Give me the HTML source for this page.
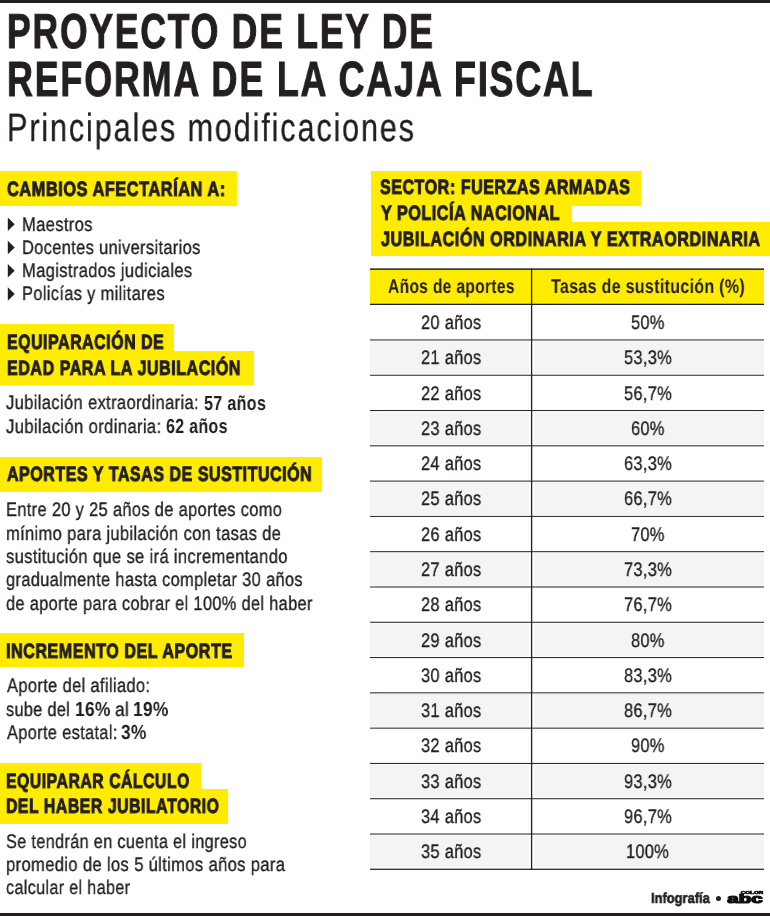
<!DOCTYPE html><html lang="es"><head><meta charset="utf-8"><title>Proyecto de ley de reforma de la Caja Fiscal</title><style>
html,body{margin:0;padding:0;background:#fff}
body{width:770px;height:916px;position:relative;overflow:hidden;font-family:'Liberation Sans', Arial, sans-serif;color:#231f20}
.t{position:absolute;left:0;top:0;white-space:nowrap;transform-origin:0 0;will-change:transform;text-rendering:geometricPrecision}
.r{position:absolute}
</style></head><body>
<div class="r" style="left:0px;top:0px;width:770.00px;height:3.00px;background:#231f20;"></div>
<div class="r" style="left:0px;top:913px;width:770.00px;height:3.00px;background:#231f20;"></div>
<div class="r" style="left:0px;top:171.2px;width:237.00px;height:34.40px;background:#ffec00;"></div>
<div class="r" style="left:0px;top:323.5px;width:174.00px;height:27.50px;background:#ffec00;"></div>
<div class="r" style="left:0px;top:350.6px;width:254.00px;height:34.40px;background:#ffec00;"></div>
<div class="r" style="left:0px;top:456.8px;width:322.00px;height:34.90px;background:#ffec00;"></div>
<div class="r" style="left:0px;top:632.6px;width:243.60px;height:34.60px;background:#ffec00;"></div>
<div class="r" style="left:0px;top:763.1px;width:201.00px;height:25.90px;background:#ffec00;"></div>
<div class="r" style="left:0px;top:788.8px;width:228.00px;height:34.80px;background:#ffec00;"></div>
<div class="r" style="left:370.8px;top:171.2px;width:269.90px;height:34.40px;background:#ffec00;"></div>
<div class="r" style="left:370.8px;top:205.6px;width:201.20px;height:16.40px;background:#ffec00;"></div>
<div class="r" style="left:370.8px;top:221.9px;width:399.20px;height:34.50px;background:#ffec00;"></div>
<svg class="r" style="left:0;top:0" width="770" height="916"><rect x="370.0" y="269.6" width="394.0" height="34.6" fill="#ffec00"/><rect x="370.0" y="341.25" width="158.95" height="32.49" fill="#f4f4f4"/><rect x="534.25" y="341.25" width="229.75" height="32.49" fill="#f4f4f4"/><rect x="370.0" y="411.83" width="158.95" height="32.49" fill="#f4f4f4"/><rect x="534.25" y="411.83" width="229.75" height="32.49" fill="#f4f4f4"/><rect x="370.0" y="482.41" width="158.95" height="32.49" fill="#f4f4f4"/><rect x="534.25" y="482.41" width="229.75" height="32.49" fill="#f4f4f4"/><rect x="370.0" y="552.99" width="158.95" height="32.49" fill="#f4f4f4"/><rect x="534.25" y="552.99" width="229.75" height="32.49" fill="#f4f4f4"/><rect x="370.0" y="623.57" width="158.95" height="32.49" fill="#f4f4f4"/><rect x="534.25" y="623.57" width="229.75" height="32.49" fill="#f4f4f4"/><rect x="370.0" y="694.15" width="158.95" height="32.49" fill="#f4f4f4"/><rect x="534.25" y="694.15" width="229.75" height="32.49" fill="#f4f4f4"/><rect x="370.0" y="764.73" width="158.95" height="32.49" fill="#f4f4f4"/><rect x="534.25" y="764.73" width="229.75" height="32.49" fill="#f4f4f4"/><rect x="370.0" y="835.31" width="158.95" height="31.89" fill="#f4f4f4"/><rect x="534.25" y="835.31" width="229.75" height="31.89" fill="#f4f4f4"/><rect x="370.0" y="339.45" width="394.0" height="1" fill="#231f20"/><rect x="370.0" y="374.74" width="394.0" height="1" fill="#231f20"/><rect x="370.0" y="410.03" width="394.0" height="1" fill="#231f20"/><rect x="370.0" y="445.32" width="394.0" height="1" fill="#231f20"/><rect x="370.0" y="480.61" width="394.0" height="1" fill="#231f20"/><rect x="370.0" y="515.90" width="394.0" height="1" fill="#231f20"/><rect x="370.0" y="551.19" width="394.0" height="1" fill="#231f20"/><rect x="370.0" y="586.48" width="394.0" height="1" fill="#231f20"/><rect x="370.0" y="621.77" width="394.0" height="1" fill="#231f20"/><rect x="370.0" y="657.06" width="394.0" height="1" fill="#231f20"/><rect x="370.0" y="692.35" width="394.0" height="1" fill="#231f20"/><rect x="370.0" y="727.64" width="394.0" height="1" fill="#231f20"/><rect x="370.0" y="762.93" width="394.0" height="1" fill="#231f20"/><rect x="370.0" y="798.22" width="394.0" height="1" fill="#231f20"/><rect x="370.0" y="833.51" width="394.0" height="1" fill="#231f20"/><rect x="370.0" y="268.4" width="394.0" height="1.5" fill="#231f20"/><rect x="370.0" y="303.75" width="394.0" height="1.25" fill="#231f20"/><rect x="370.0" y="868.65" width="394.0" height="1.25" fill="#231f20"/><rect x="530.95" y="268.4" width="1.3" height="601.50" fill="#231f20"/></svg>
<svg class="r" style="left:0;top:0" width="30" height="310" fill="#231f20"><polygon points="7.8,217.4 14.7,224.15 7.8,230.9"/><polygon points="7.8,240.7 14.7,247.45 7.8,254.2"/><polygon points="7.8,264.0 14.7,270.75 7.8,277.5"/><polygon points="7.8,287.3 14.7,294.05 7.8,300.8"/></svg>
<div class="t" style="font-size:48.98px;line-height:48.98px;font-weight:bold;letter-spacing:0.05em;-webkit-text-stroke:1.0px #231f20;left:7.21px;top:8.24px;transform:scale(0.7259,1.0019)">PROYECTO DE LEY DE</div>
<div class="t" style="font-size:49.27px;line-height:49.27px;font-weight:bold;letter-spacing:0.05em;-webkit-text-stroke:1.0px #231f20;left:6.89px;top:55.29px;transform:scale(0.7288,0.9982)">REFORMA DE LA CAJA FISCAL</div>
<div class="t" style="font-size:39.39px;line-height:39.39px;letter-spacing:0.06em;-webkit-text-stroke:0.3px #231f20;left:7.00px;top:108.76px;transform:scale(0.7783,1.0024)">Principales modificaciones</div>
<div class="t" style="font-size:20.64px;line-height:20.64px;font-weight:bold;letter-spacing:0.035em;-webkit-text-stroke:1.0px #231f20;left:6.87px;top:180.29px;transform:scale(0.7903,0.9899)">CAMBIOS AFECTARÍAN A:</div>
<div class="t" style="font-size:20.64px;line-height:20.64px;font-weight:bold;letter-spacing:0.035em;-webkit-text-stroke:1.0px #231f20;left:6.87px;top:333.49px;transform:scale(0.7702,0.9899)">EQUIPARACIÓN DE</div>
<div class="t" style="font-size:20.64px;line-height:20.64px;font-weight:bold;letter-spacing:0.035em;-webkit-text-stroke:1.0px #231f20;left:6.87px;top:359.09px;transform:scale(0.7771,0.9899)">EDAD PARA LA JUBILACIÓN</div>
<div class="t" style="font-size:20.64px;line-height:20.64px;font-weight:bold;letter-spacing:0.035em;-webkit-text-stroke:1.0px #231f20;left:7.27px;top:465.49px;transform:scale(0.7744,0.9899)">APORTES Y TASAS DE SUSTITUCIÓN</div>
<div class="t" style="font-size:20.64px;line-height:20.64px;font-weight:bold;letter-spacing:0.035em;-webkit-text-stroke:1.0px #231f20;left:6.36px;top:641.59px;transform:scale(0.7788,0.9899)">INCREMENTO DEL APORTE</div>
<div class="t" style="font-size:20.64px;line-height:20.64px;font-weight:bold;letter-spacing:0.035em;-webkit-text-stroke:1.0px #231f20;left:6.38px;top:771.59px;transform:scale(0.7627,0.9899)">EQUIPARAR CÁLCULO</div>
<div class="t" style="font-size:20.64px;line-height:20.64px;font-weight:bold;letter-spacing:0.035em;-webkit-text-stroke:1.0px #231f20;left:6.38px;top:796.99px;transform:scale(0.7659,0.9899)">DEL HABER JUBILATORIO</div>
<div class="t" style="font-size:20.64px;line-height:20.64px;font-weight:bold;letter-spacing:0.035em;-webkit-text-stroke:1.0px #231f20;left:380.45px;top:178.19px;transform:scale(0.7767,0.9899)">SECTOR: FUERZAS ARMADAS</div>
<div class="t" style="font-size:20.64px;line-height:20.64px;font-weight:bold;letter-spacing:0.035em;-webkit-text-stroke:1.0px #231f20;left:380.51px;top:203.89px;transform:scale(0.7799,0.9899)">Y POLICÍA NACIONAL</div>
<div class="t" style="font-size:20.64px;line-height:20.64px;font-weight:bold;letter-spacing:0.035em;-webkit-text-stroke:1.0px #231f20;left:380.53px;top:229.59px;transform:scale(0.7813,0.9899)">JUBILACIÓN ORDINARIA Y EXTRAORDINARIA</div>
<div class="t" style="font-size:19.60px;line-height:19.60px;letter-spacing:0.02em;-webkit-text-stroke:0.35px #231f20;left:21.50px;top:215.82px;transform:scale(0.8458,1.0008)">Maestros</div>
<div class="t" style="font-size:19.60px;line-height:19.60px;letter-spacing:0.02em;-webkit-text-stroke:0.35px #231f20;left:21.51px;top:239.02px;transform:scale(0.8400,1.0008)">Docentes universitarios</div>
<div class="t" style="font-size:19.60px;line-height:19.60px;letter-spacing:0.02em;-webkit-text-stroke:0.35px #231f20;left:21.50px;top:262.22px;transform:scale(0.8462,1.0008)">Magistrados judiciales</div>
<div class="t" style="font-size:19.60px;line-height:19.60px;letter-spacing:0.02em;-webkit-text-stroke:0.35px #231f20;left:21.51px;top:285.42px;transform:scale(0.8401,1.0008)">Policías y militares</div>
<div class="t" style="font-size:19.60px;line-height:19.60px;letter-spacing:0.02em;-webkit-text-stroke:0.35px #231f20;left:6.44px;top:394.42px;transform:scale(0.8458,1.0008)">Jubilación extraordinaria:</div>
<div class="t" style="font-size:20.35px;line-height:20.35px;font-weight:bold;letter-spacing:0.02em;left:203.86px;top:393.60px;transform:scale(0.7903,1.0000)">57 años</div>
<div class="t" style="font-size:19.60px;line-height:19.60px;letter-spacing:0.02em;-webkit-text-stroke:0.35px #231f20;left:6.43px;top:417.82px;transform:scale(0.8520,1.0008)">Jubilación ordinaria:</div>
<div class="t" style="font-size:20.35px;line-height:20.35px;font-weight:bold;letter-spacing:0.02em;left:166.22px;top:417.00px;transform:scale(0.7856,1.0000)">62 años</div>
<div class="t" style="font-size:19.60px;line-height:19.60px;letter-spacing:0.02em;-webkit-text-stroke:0.35px #231f20;left:6.21px;top:501.22px;transform:scale(0.8389,1.0008)">Entre 20 y 25 años de aportes como</div>
<div class="t" style="font-size:19.60px;line-height:19.60px;letter-spacing:0.02em;-webkit-text-stroke:0.35px #231f20;left:6.35px;top:524.62px;transform:scale(0.8434,1.0008)">mínimo para jubilación con tasas de</div>
<div class="t" style="font-size:19.60px;line-height:19.60px;letter-spacing:0.02em;-webkit-text-stroke:0.35px #231f20;left:6.44px;top:548.02px;transform:scale(0.8456,1.0008)">sustitución que se irá incrementando</div>
<div class="t" style="font-size:19.60px;line-height:19.60px;letter-spacing:0.02em;-webkit-text-stroke:0.35px #231f20;left:6.45px;top:571.32px;transform:scale(0.8389,1.0008)">gradualmente hasta completar 30 años</div>
<div class="t" style="font-size:19.60px;line-height:19.60px;letter-spacing:0.02em;-webkit-text-stroke:0.35px #231f20;left:6.43px;top:594.72px;transform:scale(0.8354,1.0008)">de aporte para cobrar el 100% del haber</div>
<div class="t" style="font-size:19.60px;line-height:19.60px;letter-spacing:0.02em;-webkit-text-stroke:0.35px #231f20;left:6.75px;top:677.32px;transform:scale(0.8425,1.0008)">Aporte del afiliado:</div>
<div class="t" style="font-size:19.60px;line-height:19.60px;letter-spacing:0.02em;-webkit-text-stroke:0.35px #231f20;left:6.25px;top:700.62px;transform:scale(0.8302,1.0008)">sube del</div>
<div class="t" style="font-size:20.35px;line-height:20.35px;font-weight:bold;letter-spacing:0.02em;left:75.07px;top:699.80px;transform:scale(0.8496,1.0000)">16%</div>
<div class="t" style="font-size:19.60px;line-height:19.60px;letter-spacing:0.02em;-webkit-text-stroke:0.35px #231f20;left:115.13px;top:700.62px;transform:scale(0.8817,1.0008)">al</div>
<div class="t" style="font-size:20.35px;line-height:20.35px;font-weight:bold;letter-spacing:0.02em;left:132.97px;top:699.80px;transform:scale(0.8496,1.0000)">19%</div>
<div class="t" style="font-size:19.60px;line-height:19.60px;letter-spacing:0.02em;-webkit-text-stroke:0.35px #231f20;left:6.75px;top:723.92px;transform:scale(0.8364,1.0008)">Aporte estatal:</div>
<div class="t" style="font-size:20.35px;line-height:20.35px;font-weight:bold;letter-spacing:0.02em;left:120.95px;top:723.10px;transform:scale(0.8486,1.0000)">3%</div>
<div class="t" style="font-size:19.60px;line-height:19.60px;letter-spacing:0.02em;-webkit-text-stroke:0.35px #231f20;left:5.92px;top:832.82px;transform:scale(0.8310,1.0008)">Se tendrán en cuenta el ingreso</div>
<div class="t" style="font-size:19.60px;line-height:19.60px;letter-spacing:0.02em;-webkit-text-stroke:0.35px #231f20;left:5.84px;top:856.12px;transform:scale(0.8476,1.0008)">promedio de los 5 últimos años para</div>
<div class="t" style="font-size:19.60px;line-height:19.60px;letter-spacing:0.02em;-webkit-text-stroke:0.35px #231f20;left:6.25px;top:879.42px;transform:scale(0.8263,1.0008)">calcular el haber</div>
<div class="t" style="font-size:19.77px;line-height:19.77px;font-weight:bold;letter-spacing:0.02em;left:387.69px;top:278.17px;transform:scale(0.7886,1.0088)">Años de aportes</div>
<div class="t" style="font-size:19.77px;line-height:19.77px;font-weight:bold;letter-spacing:0.02em;left:551.17px;top:278.17px;transform:scale(0.8094,1.0088)">Tasas de sustitución (%)</div>
<div class="t" style="font-size:14.39px;line-height:14.39px;font-weight:bold;-webkit-text-stroke:0.6px #231f20;left:650.82px;top:892.25px;transform:scale(0.8975,1.0160)">Infografía</div>
<div class="t" style="font-size:19.60px;line-height:19.60px;letter-spacing:0.02em;-webkit-text-stroke:0.35px #231f20;left:420.57px;top:313.93px;transform:scale(0.8349,1.0000)">20 años</div>
<div class="t" style="font-size:19.60px;line-height:19.60px;letter-spacing:0.02em;-webkit-text-stroke:0.35px #231f20;left:631.00px;top:313.93px;transform:scale(0.8349,1.0000)">50%</div>
<div class="t" style="font-size:19.60px;line-height:19.60px;letter-spacing:0.02em;-webkit-text-stroke:0.35px #231f20;left:420.57px;top:349.22px;transform:scale(0.8349,1.0000)">21 años</div>
<div class="t" style="font-size:19.60px;line-height:19.60px;letter-spacing:0.02em;-webkit-text-stroke:0.35px #231f20;left:623.79px;top:349.22px;transform:scale(0.8349,1.0000)">53,3%</div>
<div class="t" style="font-size:19.60px;line-height:19.60px;letter-spacing:0.02em;-webkit-text-stroke:0.35px #231f20;left:420.57px;top:384.51px;transform:scale(0.8349,1.0000)">22 años</div>
<div class="t" style="font-size:19.60px;line-height:19.60px;letter-spacing:0.02em;-webkit-text-stroke:0.35px #231f20;left:623.79px;top:384.51px;transform:scale(0.8349,1.0000)">56,7%</div>
<div class="t" style="font-size:19.60px;line-height:19.60px;letter-spacing:0.02em;-webkit-text-stroke:0.35px #231f20;left:420.57px;top:419.80px;transform:scale(0.8349,1.0000)">23 años</div>
<div class="t" style="font-size:19.60px;line-height:19.60px;letter-spacing:0.02em;-webkit-text-stroke:0.35px #231f20;left:630.96px;top:419.80px;transform:scale(0.8349,1.0000)">60%</div>
<div class="t" style="font-size:19.60px;line-height:19.60px;letter-spacing:0.02em;-webkit-text-stroke:0.35px #231f20;left:420.57px;top:455.09px;transform:scale(0.8349,1.0000)">24 años</div>
<div class="t" style="font-size:19.60px;line-height:19.60px;letter-spacing:0.02em;-webkit-text-stroke:0.35px #231f20;left:623.75px;top:455.09px;transform:scale(0.8349,1.0000)">63,3%</div>
<div class="t" style="font-size:19.60px;line-height:19.60px;letter-spacing:0.02em;-webkit-text-stroke:0.35px #231f20;left:420.57px;top:490.38px;transform:scale(0.8349,1.0000)">25 años</div>
<div class="t" style="font-size:19.60px;line-height:19.60px;letter-spacing:0.02em;-webkit-text-stroke:0.35px #231f20;left:623.75px;top:490.38px;transform:scale(0.8349,1.0000)">66,7%</div>
<div class="t" style="font-size:19.60px;line-height:19.60px;letter-spacing:0.02em;-webkit-text-stroke:0.35px #231f20;left:420.57px;top:525.67px;transform:scale(0.8349,1.0000)">26 años</div>
<div class="t" style="font-size:19.60px;line-height:19.60px;letter-spacing:0.02em;-webkit-text-stroke:0.35px #231f20;left:630.97px;top:525.67px;transform:scale(0.8349,1.0000)">70%</div>
<div class="t" style="font-size:19.60px;line-height:19.60px;letter-spacing:0.02em;-webkit-text-stroke:0.35px #231f20;left:420.57px;top:560.96px;transform:scale(0.8349,1.0000)">27 años</div>
<div class="t" style="font-size:19.60px;line-height:19.60px;letter-spacing:0.02em;-webkit-text-stroke:0.35px #231f20;left:623.76px;top:560.96px;transform:scale(0.8349,1.0000)">73,3%</div>
<div class="t" style="font-size:19.60px;line-height:19.60px;letter-spacing:0.02em;-webkit-text-stroke:0.35px #231f20;left:420.57px;top:596.25px;transform:scale(0.8349,1.0000)">28 años</div>
<div class="t" style="font-size:19.60px;line-height:19.60px;letter-spacing:0.02em;-webkit-text-stroke:0.35px #231f20;left:623.76px;top:596.25px;transform:scale(0.8349,1.0000)">76,7%</div>
<div class="t" style="font-size:19.60px;line-height:19.60px;letter-spacing:0.02em;-webkit-text-stroke:0.35px #231f20;left:420.57px;top:631.54px;transform:scale(0.8349,1.0000)">29 años</div>
<div class="t" style="font-size:19.60px;line-height:19.60px;letter-spacing:0.02em;-webkit-text-stroke:0.35px #231f20;left:631.04px;top:631.54px;transform:scale(0.8349,1.0000)">80%</div>
<div class="t" style="font-size:19.60px;line-height:19.60px;letter-spacing:0.02em;-webkit-text-stroke:0.35px #231f20;left:420.62px;top:666.83px;transform:scale(0.8349,1.0000)">30 años</div>
<div class="t" style="font-size:19.60px;line-height:19.60px;letter-spacing:0.02em;-webkit-text-stroke:0.35px #231f20;left:623.83px;top:666.83px;transform:scale(0.8349,1.0000)">83,3%</div>
<div class="t" style="font-size:19.60px;line-height:19.60px;letter-spacing:0.02em;-webkit-text-stroke:0.35px #231f20;left:420.62px;top:702.12px;transform:scale(0.8349,1.0000)">31 años</div>
<div class="t" style="font-size:19.60px;line-height:19.60px;letter-spacing:0.02em;-webkit-text-stroke:0.35px #231f20;left:623.83px;top:702.12px;transform:scale(0.8349,1.0000)">86,7%</div>
<div class="t" style="font-size:19.60px;line-height:19.60px;letter-spacing:0.02em;-webkit-text-stroke:0.35px #231f20;left:420.62px;top:737.41px;transform:scale(0.8349,1.0000)">32 años</div>
<div class="t" style="font-size:19.60px;line-height:19.60px;letter-spacing:0.02em;-webkit-text-stroke:0.35px #231f20;left:630.99px;top:737.41px;transform:scale(0.8349,1.0000)">90%</div>
<div class="t" style="font-size:19.60px;line-height:19.60px;letter-spacing:0.02em;-webkit-text-stroke:0.35px #231f20;left:420.62px;top:772.70px;transform:scale(0.8349,1.0000)">33 años</div>
<div class="t" style="font-size:19.60px;line-height:19.60px;letter-spacing:0.02em;-webkit-text-stroke:0.35px #231f20;left:623.77px;top:772.70px;transform:scale(0.8349,1.0000)">93,3%</div>
<div class="t" style="font-size:19.60px;line-height:19.60px;letter-spacing:0.02em;-webkit-text-stroke:0.35px #231f20;left:420.62px;top:807.99px;transform:scale(0.8349,1.0000)">34 años</div>
<div class="t" style="font-size:19.60px;line-height:19.60px;letter-spacing:0.02em;-webkit-text-stroke:0.35px #231f20;left:623.77px;top:807.99px;transform:scale(0.8349,1.0000)">96,7%</div>
<div class="t" style="font-size:19.60px;line-height:19.60px;letter-spacing:0.02em;-webkit-text-stroke:0.35px #231f20;left:420.62px;top:843.28px;transform:scale(0.8349,1.0000)">35 años</div>
<div class="t" style="font-size:19.60px;line-height:19.60px;letter-spacing:0.02em;-webkit-text-stroke:0.35px #231f20;left:626.13px;top:843.28px;transform:scale(0.8349,1.0000)">100%</div>
<div class="r" style="left:715.8px;top:895.6px;width:5.6px;height:5.6px;border-radius:50%;background:#231f20"></div>
<svg class="r" style="left:724px;top:889px;will-change:transform" width="46" height="18" viewBox="0 0 46 18"><text x="16.8" y="5.2" font-family="Liberation Sans" font-weight="bold" font-size="3.2" textLength="22.4" lengthAdjust="spacingAndGlyphs" fill="#111" stroke="#111" stroke-width="0.5">COLOR</text><text x="3.3" y="14.0" font-family="Liberation Sans" font-weight="bold" font-size="12.2" textLength="35.4" lengthAdjust="spacingAndGlyphs" fill="#111" stroke="#111" stroke-width="1.2" stroke-linejoin="round">abc</text></svg>
</body></html>
